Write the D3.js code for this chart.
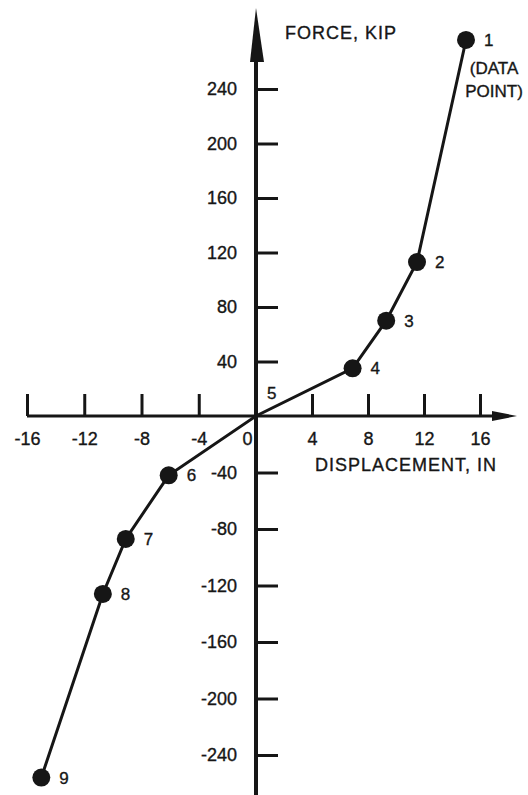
<!DOCTYPE html>
<html>
<head>
<meta charset="utf-8">
<script src="https://cdn.jsdelivr.net/npm/d3@7"></script>
<style>
  html, body { margin: 0; padding: 0; background: #fff; }
  svg { display: block; font-family: "Liberation Sans", Arial, Helvetica, sans-serif; }
</style>
</head>
<body>
<div id="chart"></div>
<script>
// data points (displacement in, force kip)
const pointLabels = ["1", "2", "3", "4", "5", "6", "7", "8", "9"];
const displacement = [15.0, 11.5, 9.3, 6.9, 0, -6.1, -9.1, -10.7, -15.0];
const force = [276, 113, 70, 35, 0, -42, -87, -126, -256];

const xTicks = [-16, -12, -8, -4, 0, 4, 8, 12, 16];
const yTicks = [-240, -200, -160, -120, -80, -40, 40, 80, 120, 160, 200, 240];

const xTitle = "DISPLACEMENT, IN";
const yTitle = "FORCE, KIP";
const noteLines = ["(DATA", "POINT)"];

const width = 528;
const height = 795;
const ink = "#161616";

// hand-drawn original is a bit uneven, so both scales go through 0 separately
const x = d3.scaleLinear().domain([-16, 0, 16]).range([27, 256, 480]);
const y = d3.scaleLinear().domain([-240, 0, 240]).range([755, 416, 89]);

// plain hyphen, like the scanned figure
const plain = d => String(d);

const svg = d3.select("#chart")
    .append("svg")
    .attr("width", width)
    .attr("height", height);

// x axis: ticks go up, labels below
const xAxis = svg.append("g")
    .attr("transform", `translate(0,${y(0)})`)
    .call(d3.axisBottom(x).tickValues(xTicks).tickFormat(plain).tickSize(-22).tickPadding(16));

// y axis: ticks go right, labels left
const yAxis = svg.append("g")
    .attr("transform", `translate(${x(0)},0)`)
    .call(d3.axisLeft(y).tickValues(yTicks).tickFormat(plain).tickSize(-22).tickPadding(19));

[xAxis, yAxis].forEach(g => {
    g.select(".domain").remove();
    g.selectAll(".tick line").attr("stroke", ink).attr("stroke-width", 3);
    g.selectAll(".tick text")
        .attr("fill", ink)
        .attr("stroke", ink)
        .attr("stroke-width", 0.35)
        .attr("font-size", "18px");
});
xAxis.selectAll(".tick text").attr("dx", d => d === 0 ? -9 : 0);

// axis lines with arrowheads
svg.append("line")
    .attr("x1", x(-16)).attr("x2", 494)
    .attr("y1", y(0)).attr("y2", y(0))
    .attr("stroke", ink).attr("stroke-width", 3);
svg.append("path")
    .attr("d", `M492,${y(0) - 5}L517,${y(0)}L492,${y(0) + 5}Z`)
    .attr("fill", ink);

svg.append("line")
    .attr("x1", x(0)).attr("x2", x(0))
    .attr("y1", 40).attr("y2", height)
    .attr("stroke", ink).attr("stroke-width", 4);
svg.append("path")
    .attr("d", `M${x(0)},8L${x(0) + 8},62L${x(0) - 6},62Z`)
    .attr("fill", ink);

// titles
svg.append("text")
    .attr("x", 285).attr("y", 39)
    .attr("font-size", "18px")
    .attr("letter-spacing", "1px")
    .attr("fill", ink)
    .attr("stroke", ink)
    .attr("stroke-width", 0.35)
    .text(yTitle);

svg.append("text")
    .attr("x", 315).attr("y", 471)
    .attr("font-size", "18px")
    .attr("letter-spacing", "1px")
    .attr("fill", ink)
    .attr("stroke", ink)
    .attr("stroke-width", 0.35)
    .text(xTitle);

// the curve
const pts = displacement.map((d, i) => ({ dx: d, f: force[i], label: pointLabels[i] }));

svg.append("path")
    .datum(pts)
    .attr("fill", "none")
    .attr("stroke", ink)
    .attr("stroke-width", 3)
    .attr("d", d3.line().x(d => x(d.dx)).y(d => y(d.f)));

// markers (origin point 5 has no dot)
svg.selectAll("circle.pt")
    .data(pts.filter(d => d.dx !== 0 || d.f !== 0))
    .enter()
    .append("circle")
    .attr("class", "pt")
    .attr("cx", d => x(d.dx))
    .attr("cy", d => y(d.f))
    .attr("r", 9)
    .attr("fill", ink);

svg.selectAll("text.pt-label")
    .data(pts)
    .enter()
    .append("text")
    .attr("class", "pt-label")
    .attr("x", d => d.label === "5" ? x(d.dx) + 11 : x(d.dx) + 18)
    .attr("y", d => d.label === "5" ? y(d.f) - 23 : y(d.f))
    .attr("dy", "0.35em")
    .attr("font-size", "17px")
    .attr("fill", ink)
    .attr("stroke", ink)
    .attr("stroke-width", 0.35)
    .text(d => d.label);

// note under point 1
svg.append("text")
    .attr("font-size", "17px")
    .attr("fill", ink)
    .attr("stroke", ink)
    .attr("stroke-width", 0.35)
    .attr("text-anchor", "middle")
    .selectAll("tspan")
    .data(noteLines)
    .enter()
    .append("tspan")
    .attr("x", x(pts[0].dx) + 28)
    .attr("y", (d, i) => y(pts[0].f) + 34 + i * 23)
    .text(d => d);
</script>
</body>
</html>
